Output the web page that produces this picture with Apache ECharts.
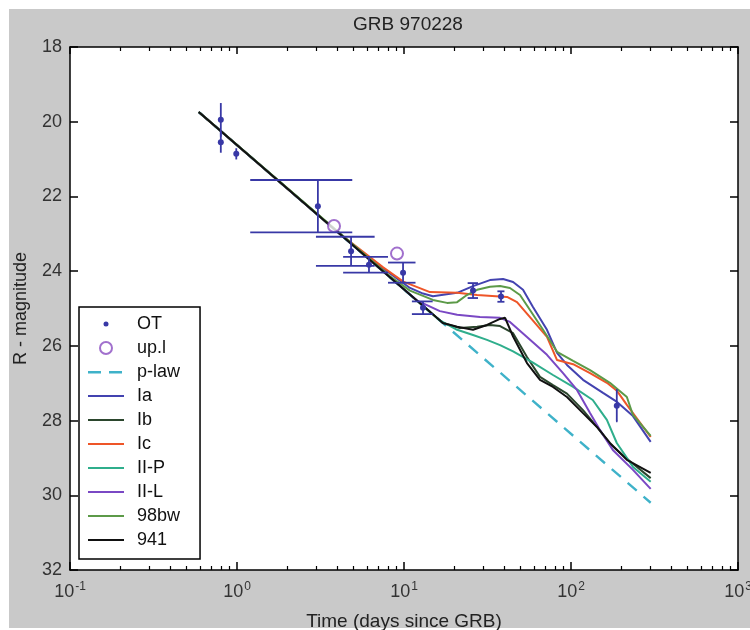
<!DOCTYPE html>
<html><head><meta charset="utf-8">
<script src="https://cdn.jsdelivr.net/npm/echarts@6/dist/echarts.min.js"></script>
<style>html,body{margin:0;padding:0;background:#fff}#c{width:750px;height:630px}</style>
</head><body><div id="c"></div>
<script>
// ---- data ----
const otTime = [0.80, 0.80, 0.99, 3.05, 4.82, 6.17, 9.87, 13.0, 25.9, 38.1, 188];
const otMag  = [19.95, 20.55, 20.86, 22.26, 23.47, 23.83, 24.04, 24.98, 24.52, 24.68, 27.60];
const otErr  = [0.45, 0.28, 0.15, 0.70, 0.39, 0.21, 0.27, 0.17, 0.20, 0.14, 0.42];

const ulTime = [3.81, 9.08];
const ulMag  = [22.79, 23.53];

const plTime = [0.59, 300];
const plMag  = [19.74, 30.2];

const iaTime = [0.59, 6.0, 8.25, 10.86, 13.0, 14.9, 20.8, 25.9, 32.7, 39.2, 45.0, 51.6, 59.2, 71.8, 82.5, 94.6, 118, 155.5, 188.6, 235, 300];
const iaMag  = [19.74, 23.63, 24.06, 24.45, 24.60, 24.67, 24.58, 24.40, 24.24, 24.21, 24.29, 24.50, 24.96, 25.57, 26.19, 26.51, 26.91, 27.26, 27.50, 27.88, 28.57];

const ibTime = [0.59, 17.1, 21.6, 27.4, 32.7, 37.6, 45.0, 54.5, 65.2, 78.0, 94.6, 118, 143, 171, 216, 300];
const ibMag  = [19.74, 25.39, 25.52, 25.49, 25.44, 25.47, 25.66, 26.30, 26.83, 27.05, 27.28, 27.72, 28.17, 28.62, 29.02, 29.54];

const icTime = [0.59, 4.0, 7.5, 9.9, 14.3, 20.8, 27.4, 41.4, 47.5, 56.8, 71.8, 82.5, 103, 130, 164, 189, 216, 300];
const icMag  = [19.74, 22.95, 23.90, 24.28, 24.56, 24.58, 24.64, 24.69, 24.83, 25.23, 25.76, 26.38, 26.49, 26.73, 26.99, 27.21, 27.58, 28.44];

const iipTime = [0.59, 16.4, 20.8, 25.9, 31.4, 37.6, 45.0, 59.2, 78.0, 103, 135, 149, 164, 188, 235, 300];
const iipMag  = [19.74, 25.32, 25.57, 25.71, 25.84, 25.98, 26.15, 26.45, 26.78, 27.10, 27.45, 27.72, 27.98, 28.60, 29.24, 29.64];

const iilTime = [0.59, 12.0, 16.4, 20.8, 28.5, 37.6, 43.1, 54.5, 71.8, 89.6, 108.6, 130, 149, 178, 235, 300];
const iilMag  = [19.74, 24.79, 25.07, 25.17, 25.23, 25.25, 25.36, 25.76, 26.24, 26.73, 27.18, 27.80, 28.25, 28.79, 29.32, 29.83];

const bwTime = [0.59, 8.25, 10.86, 14.9, 18.1, 20.8, 23.8, 27.4, 32.7, 37.6, 43.1, 49.5, 56.8, 68.0, 82.5, 103, 130, 171, 216, 235, 300];
const bwMag  = [19.74, 24.14, 24.52, 24.77, 24.85, 24.83, 24.64, 24.50, 24.42, 24.40, 24.45, 24.64, 25.04, 25.57, 26.16, 26.40, 26.65, 26.99, 27.37, 27.85, 28.41];

const s941Time = [0.59, 17.1, 20.8, 25.9, 31.4, 37.6, 40.3, 45.0, 54.5, 65.2, 78.0, 94.6, 118, 143, 171, 216, 300];
const s941Mag  = [19.74, 25.39, 25.49, 25.57, 25.44, 25.28, 25.25, 25.75, 26.46, 26.91, 27.10, 27.37, 27.80, 28.17, 28.60, 29.05, 29.40];

const xMajorTicks = [0.1, 1, 10, 100, 1000];
const xMinorTicks = [0.2,0.3,0.4,0.5,0.6,0.7,0.8,0.9, 2,3,4,5,6,7,8,9, 20,30,40,50,60,70,80,90, 200,300,400,500,600,700,800,900];
const yTicks = [18, 20, 22, 24, 26, 28, 30, 32];

// ---- chart ----
const FONT = '"Liberation Sans", Arial, sans-serif';
const CAP = 1.85; // errorbar tee half-width in days (MATLAB style)
const zip = (a, b) => a.map((v, i) => [v, b[i]]);
const LINE_ICON = 'path://M0,0M36,12M0,5h36v2h-36z';
const DASH_ICON = 'path://M0,0M36,12M0,5h13v2.4h-13z M21,5h13v2.4h-13z';
const DOT_ICON = 'path://M0,0M12,12M6,3.5A2.5,2.5,0,1,1,6,8.5A2.5,2.5,0,1,1,6,3.5Z';

function lineSeries(name, t, m, color, z, extra) {
  return Object.assign({
    name, type: 'line', data: zip(t, m), symbol: 'none', z: z,
    lineStyle: { color, width: 2 }, itemStyle: { color }, animation: false
  }, extra || {});
}

const chart = echarts.init(document.getElementById('c'), null, { renderer: 'canvas' });

const baseX = { type: 'log', logBase: 10, min: 0.1, max: 1000, splitLine: { show: false }, minorTick: { show: false } };
const baseY = { type: 'value', inverse: true, min: 18, max: 32, interval: 2, splitLine: { show: false } };
const axLine = { show: true, lineStyle: { color: '#000', width: 1.5 } };

const option = {
  backgroundColor: '#fff',
  animation: false,
  graphic: [{ type: 'rect', z: -10, shape: { x: 9, y: 9, width: 741, height: 619 }, style: { fill: '#c9c9c9' } }],
  title: {
    text: 'GRB 970228', left: 403, top: 10, textAlign: 'center',
    textStyle: { fontFamily: FONT, fontSize: 19, fontWeight: 'normal', color: '#222' }
  },
  grid: { left: 70, right: 12, top: 47, bottom: 60, show: true, backgroundColor: '#fff', borderWidth: 0,
          containLabel: false, outerBoundsMode: 'none' },
  legend: {
    orient: 'vertical', left: 79, top: 307,
    backgroundColor: '#fff', borderColor: '#000', borderWidth: 1.5, borderRadius: 0,
    padding: [8, 20, 10, 9],
    itemWidth: 36, itemHeight: 12, itemGap: 6,
    textStyle: { fontFamily: FONT, fontSize: 18, color: '#111', lineHeight: 18, padding: [0, 0, 0, 8] },
    data: [
      { name: 'OT', icon: DOT_ICON },
      { name: 'up.l', icon: 'emptyCircle' },
      { name: 'p-law', icon: DASH_ICON },
      { name: 'Ia', icon: LINE_ICON },
      { name: 'Ib', icon: LINE_ICON },
      { name: 'Ic', icon: LINE_ICON },
      { name: 'II-P', icon: LINE_ICON },
      { name: 'II-L', icon: LINE_ICON },
      { name: '98bw', icon: LINE_ICON },
      { name: '941', icon: LINE_ICON }
    ]
  },
  xAxis: [
    Object.assign({}, baseX, {
      position: 'bottom', axisLine: axLine,
      axisTick: { show: true, inside: true, length: 8, customValues: xMajorTicks, lineStyle: { color: '#000', width: 1.5 } },
      axisLabel: {
        customValues: xMajorTicks, margin: 11, color: '#333', fontFamily: FONT,
        formatter: v => '{b|10}{e|' + Math.round(Math.log10(v)) + '}',
        rich: {
          b: { fontSize: 18, fontFamily: FONT, color: '#333' },
          e: { fontSize: 12, fontFamily: FONT, color: '#333', padding: [0, 0, 10, 1] }
        }
      },
      name: 'Time (days since GRB)', nameLocation: 'middle', nameGap: 42,
      nameTextStyle: { fontFamily: FONT, fontSize: 19, color: '#222' }
    }),
    Object.assign({}, baseX, {
      position: 'top', axisLine: axLine,
      axisTick: { show: true, inside: true, length: 7, customValues: xMajorTicks, lineStyle: { color: '#000', width: 1.5 } },
      axisLabel: { show: false }
    }),
    Object.assign({}, baseX, {
      position: 'bottom', axisLine: { show: false },
      axisTick: { show: true, inside: true, length: 4, customValues: xMinorTicks, lineStyle: { color: '#000', width: 1.2 } },
      axisLabel: { show: false }
    }),
    Object.assign({}, baseX, {
      position: 'top', axisLine: { show: false },
      axisTick: { show: true, inside: true, length: 4, customValues: xMinorTicks, lineStyle: { color: '#000', width: 1.2 } },
      axisLabel: { show: false }
    })
  ],
  yAxis: [
    Object.assign({}, baseY, {
      position: 'left', axisLine: axLine,
      axisTick: { show: true, inside: true, length: 8, lineStyle: { color: '#000', width: 1.5 } },
      axisLabel: { fontSize: 18, fontFamily: FONT, color: '#333', margin: 8,
        formatter: v => yTicks.indexOf(v) >= 0 ? String(v) : '' },
      name: 'R - magnitude', nameLocation: 'middle', nameGap: 40, nameRotate: 90,
      nameTextStyle: { fontFamily: FONT, fontSize: 18, color: '#222' }
    }),
    Object.assign({}, baseY, {
      position: 'right', axisLine: axLine,
      axisTick: { show: true, inside: true, length: 8, lineStyle: { color: '#000', width: 1.5 } },
      axisLabel: { show: false }
    })
  ],
  series: [
    lineSeries('p-law', plTime, plMag, '#3fb2c9', 2, { lineStyle: { color: '#3fb2c9', width: 2.4, type: [12, 9] } }),
    lineSeries('Ia', iaTime, iaMag, '#4343b0', 3),
    lineSeries('Ib', ibTime, ibMag, '#2b462d', 3),
    lineSeries('Ic', icTime, icMag, '#ee5528', 3),
    lineSeries('II-P', iipTime, iipMag, '#2fae8c', 3),
    lineSeries('II-L', iilTime, iilMag, '#7a48c4', 3),
    lineSeries('98bw', bwTime, bwMag, '#5c9a48', 3),
    lineSeries('941', s941Time, s941Mag, '#111111', 4),
    {
      name: 'up.l', type: 'scatter', data: zip(ulTime, ulMag), z: 6,
      symbol: 'emptyCircle', symbolSize: 12,
      itemStyle: { color: '#8a4cc0', borderColor: '#8a4cc0', borderWidth: 1.8 }
    },
    {
      name: 'OT', type: 'custom', z: 7,
      data: otTime.map((t, i) => [t, otMag[i], otErr[i]]),
      encode: { x: 0, y: 1 },
      itemStyle: { color: '#3838a6' },
      renderItem: function (params, api) {
        const t = api.value(0), m = api.value(1), e = api.value(2);
        const p = api.coord([t, m]);
        const top = api.coord([t, m - e]);
        const bot = api.coord([t, m + e]);
        const col = '#3838a6';
        const ls = { stroke: col, lineWidth: 1.8 };
        const children = [
          { type: 'line', shape: { x1: p[0], y1: top[1], x2: p[0], y2: bot[1] }, style: ls }
        ];
        if (t - CAP > 0) {
          const xl = api.coord([t - CAP, m])[0];
          const xr = api.coord([t + CAP, m])[0];
          children.push({ type: 'line', shape: { x1: xl, y1: top[1], x2: xr, y2: top[1] }, style: ls });
          children.push({ type: 'line', shape: { x1: xl, y1: bot[1], x2: xr, y2: bot[1] }, style: ls });
        }
        children.push({ type: 'circle', shape: { cx: p[0], cy: p[1], r: 3 }, style: { fill: col } });
        return { type: 'group', children };
      }
    }
  ]
};
chart.setOption(option);
</script>
</body></html>
